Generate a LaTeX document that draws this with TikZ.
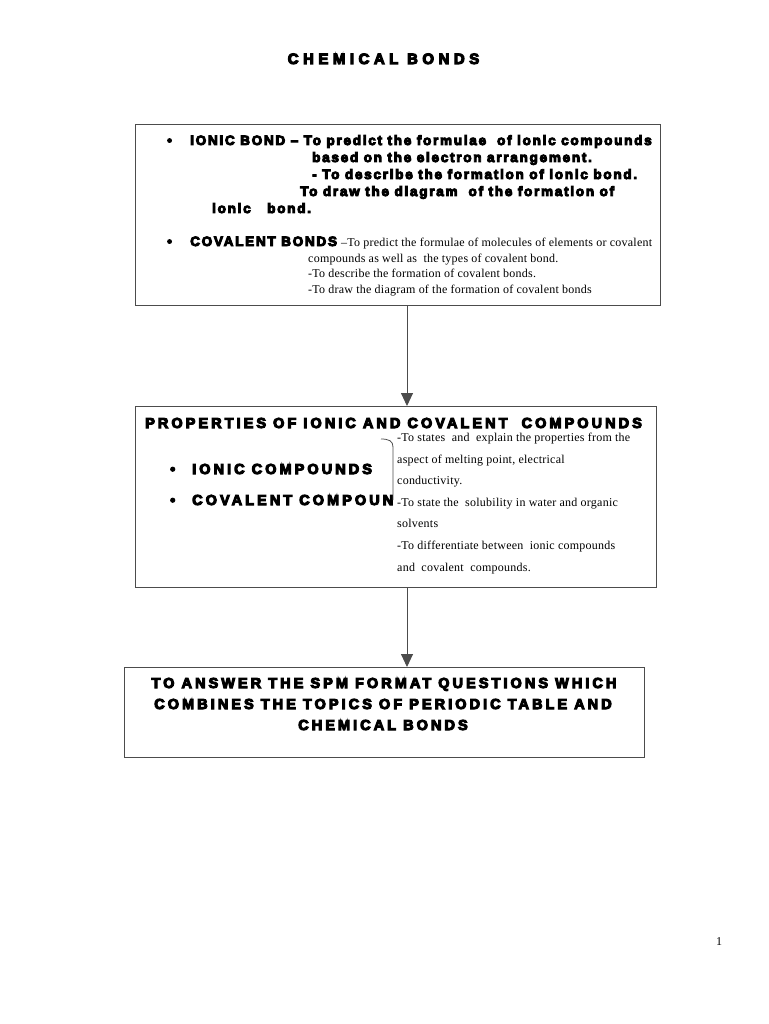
\documentclass[tikz,border=0pt]{standalone}
\usepackage{fontspec}
\setmainfont{Liberation Serif}
\newfontfamily\notefont[LetterSpace=2]{Liberation Serif}
\newfontfamily\heavyfont[LetterSpace=13,FakeBold=7]{Liberation Sans Bold}
\newfontfamily\capsfont[LetterSpace=21,FakeBold=7]{Liberation Sans Bold}
\newfontfamily\titlefont[LetterSpace=30,FakeBold=7]{Liberation Sans Bold}
\usetikzlibrary{arrows.meta}

\tikzset{
  panel/.style={draw=black!70, line width=0.9pt, inner sep=0pt, outer sep=0pt},
  txt/.style={anchor=base west, inner sep=0pt},
  heavy/.style={txt, font=\heavyfont\fontsize{13.5}{15}\selectfont},
  caps/.style={txt, font=\capsfont\fontsize{14.5}{16}\selectfont},
  plain/.style={txt, font=\notefont\fontsize{12}{13}\selectfont},
  link/.style={draw=black!70, line width=0.9pt, -{Triangle[width=12pt,length=13pt]}},
}

\begin{document}
\begin{tikzpicture}[x=1pt,y=-1pt]
  \useasboundingbox (0,0) rectangle (768,1024);
  \node[anchor=base, inner sep=0pt, font=\titlefont\fontsize{15}{18}\selectfont] (title) at (383.5,64) {CHEMICAL BONDS};

  % bonds
  \node[panel, minimum width=525pt, minimum height=181pt] (bonds) at (397.5,214.5) {};
  \node[heavy] (b1) at (167,145) {•};
  \node[heavy] (ionic1) at (190,145) {IONIC BOND – To predict the formulae\ \ of ionic compounds};
  \node[heavy] (ionic2) at (312,162) {based on the electron arrangement.};
  \node[heavy] (ionic3) at (312,179) {- To describe the formation of ionic bond.};
  \node[heavy] (ionic4) at (300,196) {To draw the diagram\ \ of the formation of};
  \node[heavy] (ionic5) at (212,213) {ionic\ \ \ bond.};
  \node[heavy] (b2) at (167,246) {•};
  \node[heavy] (cov1) at (190,246) {COVALENT BONDS};
  \node[plain] (cov2) at (341,247) {–To predict the formulae of molecules of elements or covalent};
  \node[plain] (cov3) at (308,262) {compounds as well as\ \ the types of covalent bond.};
  \node[plain] (cov4) at (308,277) {-To describe the formation of covalent bonds.};
  \node[plain] (cov5) at (308,293) {-To draw the diagram of the formation of covalent bonds};

  % properties
  \node[panel, minimum width=521pt, minimum height=181pt] (props) at (395.5,496.5) {};
  \node[caps] (ptitle) at (145,428) {PROPERTIES OF IONIC AND COVALENT\ \ COMPOUNDS};
  \node[caps] (b3) at (170,474) {•};
  \node[caps] (pionic) at (192,474) {IONIC COMPOUNDS};
  \node[caps] (b4) at (170,505) {•};
  \node[caps] (pcov) at (192,505) {COVALENT COMPOUN};
  \draw[black!70, line width=0.8pt] (381,439) .. controls (389,439) and (393,441) .. (393,447) -- (393,500);
  \node[plain] (p1) at (397,441) {-To states\ \ and\ \ explain the properties from the};
  \node[plain] (p2) at (397,463) {aspect of melting point, electrical};
  \node[plain] (p3) at (397,484) {conductivity.};
  \node[plain] (p4) at (397,506) {-To state the\ \ solubility in water and organic};
  \node[plain] (p5) at (397,527) {solvents};
  \node[plain] (p6) at (397,549) {-To differentiate between\ \ ionic compounds};
  \node[plain] (p7) at (397,571) {and\ \ covalent\ \ compounds.};

  % spm
  \node[panel, minimum width=520pt, minimum height=90pt] (spm) at (384,712) {};
  \node[caps, anchor=base] (s1) at (384,688) {TO ANSWER THE SPM FORMAT QUESTIONS WHICH};
  \node[caps, anchor=base] (s2) at (383,709) {COMBINES THE TOPICS OF PERIODIC TABLE AND};
  \node[caps, anchor=base] (s3) at (383,730) {CHEMICAL BONDS};

  \draw[link] ([xshift=9.5pt]bonds.south) -- ([xshift=11.5pt]props.north);
  \draw[link] ([xshift=11.5pt]props.south) -- ([xshift=23pt]spm.north);

  \node[anchor=base, inner sep=0pt, font=\fontsize{12}{14}\selectfont] (page) at (719,945) {1};
\end{tikzpicture}
\end{document}
